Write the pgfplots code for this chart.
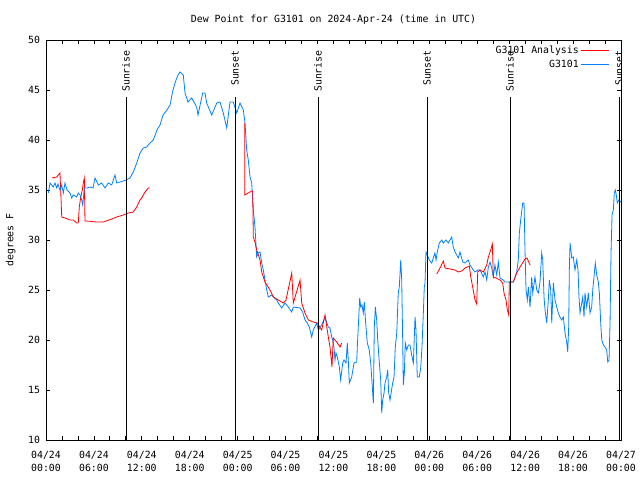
\documentclass[border=0pt]{standalone}
\usepackage{fontspec}
\setmainfont{DejaVu Sans Mono}
\usepackage{pgfplots}
\usepackage{pgfplotstable}
\pgfplotsset{compat=1.18}
\definecolor{gblue}{RGB}{0,128,255}
\definecolor{gred}{RGB}{255,0,0}
\pgfplotstableread{
h v
0.29 34.7
0.50 35.7
0.91 35.3
1.13 35.7
1.34 35.2
1.50 35.6
1.75 35.0
1.97 35.5
2.17 34.7
2.38 35.7
2.63 35.0
3.01 34.7
3.22 34.2
3.42 34.5
3.84 34.3
4.04 34.7
4.26 34.5
4.47 34.0
4.60 33.5
4.80 35.2
5.10 35.2
5.51 35.3
5.89 35.2
6.14 36.2
6.55 35.5
6.97 35.7
7.39 35.2
7.80 35.7
8.23 35.5
8.64 36.5
8.85 35.7
9.27 35.8
10.02 36.0
10.52 36.2
10.93 36.8
11.36 37.7
11.77 38.7
12.18 39.2
12.61 39.3
13.02 39.7
13.44 40.0
13.90 41.0
14.28 41.5
14.65 42.5
15.15 43.0
15.53 43.5
15.90 45.0
16.28 46.0
16.53 46.5
16.78 46.8
17.19 46.5
17.41 44.7
17.78 43.8
18.24 44.2
18.87 43.3
19.03 42.5
19.62 44.7
19.91 44.7
20.12 43.7
20.75 42.5
21.38 43.7
21.79 43.8
22.20 42.7
22.63 41.2
23.04 43.8
23.45 43.8
23.88 42.7
24.29 43.7
24.71 43.0
24.92 41.7
25.13 39.0
25.33 38.0
25.55 36.3
25.76 35.7
25.96 33.0
26.17 31.3
26.38 28.3
26.59 28.7
26.80 28.8
27.01 27.7
27.21 27.0
27.42 26.0
27.64 25.0
27.84 24.3
28.26 24.5
28.89 24.0
29.09 23.7
29.51 23.2
29.93 23.7
30.34 23.3
30.77 22.8
30.97 23.3
31.81 23.2
32.14 22.8
32.43 22.0
32.72 21.7
32.97 21.3
33.27 20.3
33.47 21.0
33.90 21.7
34.10 21.0
34.52 21.5
34.94 22.3
35.35 21.3
35.56 21.2
35.78 20.3
35.90 20.0
36.06 19.3
36.19 18.0
36.31 18.7
36.48 18.3
36.73 17.3
36.90 16.0
37.15 17.7
37.32 18.0
37.57 17.7
37.73 19.7
37.85 18.0
37.98 15.7
38.28 16.3
38.57 17.7
38.91 17.8
38.98 19.3
39.19 22.7
39.28 24.2
39.41 23.3
39.57 23.5
39.73 22.7
39.86 23.8
40.03 21.7
40.23 19.7
40.48 19.0
40.66 17.7
40.78 16.3
40.91 14.7
40.99 13.7
41.11 21.3
41.24 23.3
41.41 22.0
41.54 20.0
41.74 17.7
41.91 16.0
42.04 12.7
42.16 14.0
42.33 14.7
42.45 15.7
42.66 16.3
42.79 17.0
42.91 14.7
43.08 14.0
43.41 15.7
43.58 16.3
43.74 19.3
43.92 20.7
44.11 24.7
44.24 25.3
44.42 28.0
44.54 26.0
44.67 19.7
44.74 15.5
44.87 16.7
44.99 19.7
45.17 19.0
45.37 19.5
45.58 19.5
45.79 18.5
46.00 17.7
46.21 22.3
46.33 21.0
46.49 16.3
46.74 16.3
46.92 17.2
47.08 19.3
47.25 22.7
47.37 25.3
47.46 25.7
47.58 28.8
47.75 28.5
48.00 28.0
48.30 27.7
48.50 28.2
48.71 28.7
48.84 28.0
49.00 28.8
49.25 29.7
49.55 30.0
49.75 29.7
50.09 30.0
50.38 29.7
50.59 30.0
50.80 30.3
51.00 29.3
51.22 28.8
51.43 28.5
51.63 28.2
51.84 28.8
52.18 27.8
52.47 27.7
52.88 28.0
53.09 27.5
53.51 27.0
53.72 26.8
54.10 27.0
54.35 27.0
54.76 26.3
54.98 26.8
55.19 26.0
55.39 27.3
55.60 27.8
55.81 27.2
56.01 26.3
56.22 27.5
56.44 26.5
56.64 27.8
56.85 26.2
57.26 26.0
57.48 25.8
57.89 25.8
58.52 25.8
58.73 26.3
58.94 26.8
59.14 28.0
59.27 30.7
59.44 32.0
59.69 33.7
59.86 33.7
59.98 29.0
60.11 25.0
60.27 24.0
60.40 25.3
60.61 23.3
60.82 26.3
60.95 24.7
61.23 26.3
61.45 25.0
61.65 24.7
61.86 25.8
62.07 28.7
62.20 28.0
62.36 24.3
62.49 23.0
62.70 21.7
62.90 24.0
63.03 26.0
63.20 25.0
63.33 21.7
63.53 25.7
63.74 24.0
63.95 23.3
64.15 22.7
64.36 22.3
64.58 22.0
64.78 22.3
64.99 20.7
65.20 19.8
65.33 18.8
65.45 21.3
65.53 27.0
65.62 29.7
65.70 29.2
65.83 28.2
66.03 28.3
66.24 27.0
66.46 28.0
66.62 27.0
66.74 24.3
66.87 22.7
67.08 23.7
67.21 24.3
67.37 22.3
67.49 24.7
67.71 23.3
67.91 24.7
68.12 22.7
68.33 23.3
68.46 25.0
68.62 26.3
68.78 27.7
68.96 26.5
69.16 25.8
69.29 24.7
69.46 21.7
69.59 20.0
69.79 19.5
70.00 19.3
70.21 19.0
70.34 17.8
70.50 18.0
70.63 21.7
70.75 28.7
70.88 32.5
71.04 33.0
71.16 34.7
71.29 35.0
71.41 34.5
71.54 33.7
71.72 34.0
71.97 33.8
}\bluedata
\pgfplotstableread{
h v
0.71 36.2
1.34 36.3
1.75 36.7
1.97 32.3
2.38 32.2
3.01 32.0
3.42 32.0
3.84 31.7
4.04 31.7
4.17 33.3
4.35 34.3
4.55 35.0
4.67 35.7
4.80 36.2
4.88 31.9
5.10 31.9
6.35 31.8
7.18 31.8
8.23 32.1
8.85 32.3
9.68 32.5
10.31 32.7
10.93 32.8
11.36 33.3
11.77 34.0
11.98 34.2
12.40 34.8
12.81 35.2
13.02 35.2
}\redA
\pgfplotstableread{
h v
24.88 41.7
24.89 34.5
25.33 34.7
25.76 34.9
25.88 34.9
25.96 30.3
26.17 29.8
26.38 29.0
26.80 28.0
27.01 26.8
27.42 25.8
28.05 25.0
28.46 24.3
29.09 24.0
29.72 23.7
30.05 24.0
30.77 26.7
30.97 23.7
31.81 26.0
32.02 23.7
32.43 22.7
32.85 22.0
33.47 21.8
33.97 21.7
34.52 21.0
34.94 22.5
35.35 20.3
35.56 19.3
35.81 17.3
35.97 20.2
36.40 19.8
36.82 19.3
37.03 19.7
}\redB
\pgfplotstableread{
h v
48.93 26.6
49.34 27.2
49.75 27.9
49.96 27.2
50.59 27.1
51.22 27.0
51.63 26.8
52.06 26.9
52.47 27.2
53.01 27.4
53.19 26.3
53.43 25.3
53.72 24.0
53.93 23.6
54.06 26.8
54.35 27.0
54.76 26.8
55.19 27.5
55.39 28.3
55.69 29.0
55.89 29.6
56.01 26.3
56.35 26.2
56.85 26.0
57.19 25.7
57.35 24.7
57.60 24.0
57.77 23.0
57.94 22.5
58.02 25.8
58.52 25.8
58.94 26.7
59.36 27.3
59.98 28.1
60.23 28.2
60.61 27.5
}\redC
\begin{document}
\begin{tikzpicture}[x=1pt,y=1pt]
\path[use as bounding box] (0,0) rectangle (480,360);
\begin{axis}[
  at={(34.5pt,30pt)}, anchor=south west,
  width=431.25pt, height=300pt, scale only axis,
  xmin=0, xmax=72, ymin=10, ymax=50,
  xtick={0,6,...,72},
  xticklabels={04/24\\00:00,04/24\\06:00,04/24\\12:00,04/24\\18:00,04/25\\00:00,04/25\\06:00,04/25\\12:00,04/25\\18:00,04/26\\00:00,04/26\\06:00,04/26\\12:00,04/26\\18:00,04/27\\00:00},
  minor x tick num=2,
  ytick={10,15,...,50},
  tick pos=both, tick align=inside,
  major tick length=3pt, minor tick length=3pt,
  tick style={black, line width=0.6pt},
  axis line style={line width=0.6pt},
  /pgf/number format/assume math mode=true,
  ticklabel style={font=\fontsize{7.4}{9}\selectfont},
  xticklabel style={align=center, yshift=-4.5pt, font=\fontsize{7.4}{9.8}\selectfont},
  yticklabel style={xshift=-1pt},
  title={Dew Point for G3101 on 2024-Apr-24 (time in UTC)},
  title style={font=\fontsize{7.4}{9}\selectfont, yshift=1.8pt},
  ylabel={degrees F},
  ylabel style={font=\fontsize{7.4}{9}\selectfont, yshift=2.5pt},
  legend style={draw=none, fill=none, at={(0.983,0.995)}, anchor=north east,
    font=\fontsize{7.4}{9}\selectfont, row sep=0.5pt, inner sep=1pt,
    nodes={inner sep=1.5pt}},
  legend cell align=right,
  legend plot pos=right,
  legend image code/.code={\draw[#1] plot coordinates {(0pt,0pt) (21pt,0pt)};},
]
\addplot[gred, line width=0.6pt] table {\redA};
\addlegendentry{G3101 Analysis}
\addplot[gblue, line width=0.6pt] table {\bluedata};
\addlegendentry{G3101}
\addplot[gred, line width=0.6pt, forget plot] table {\redB};
\addplot[gred, line width=0.6pt, forget plot] table {\redC};
\addplot[black, line width=0.7pt, forget plot] coordinates {(10.02,10) (10.02,44.3)};
\addplot[black, line width=0.7pt, forget plot] coordinates {(23.67,10) (23.67,44.3)};
\addplot[black, line width=0.7pt, forget plot] coordinates {(34.06,10) (34.06,44.3)};
\addplot[black, line width=0.7pt, forget plot] coordinates {(47.71,10) (47.71,44.3)};
\addplot[black, line width=0.7pt, forget plot] coordinates {(58.10,10) (58.10,44.3)};
\addplot[black, line width=0.7pt, forget plot] coordinates {(71.75,10) (71.75,44.3)};
\begin{scope}[every node/.style={rotate=90, anchor=east, inner sep=0pt, font=\fontsize{7.4}{9}\selectfont}]
\node at (axis cs:10.02,49.0) {Sunrise};
\node at (axis cs:23.67,49.0) {Sunset};
\node at (axis cs:34.06,49.0) {Sunrise};
\node at (axis cs:47.71,49.0) {Sunset};
\node at (axis cs:58.10,49.0) {Sunrise};
\node at (axis cs:71.75,49.0) {Sunset};
\end{scope}
\end{axis}
\end{tikzpicture}
\end{document}
